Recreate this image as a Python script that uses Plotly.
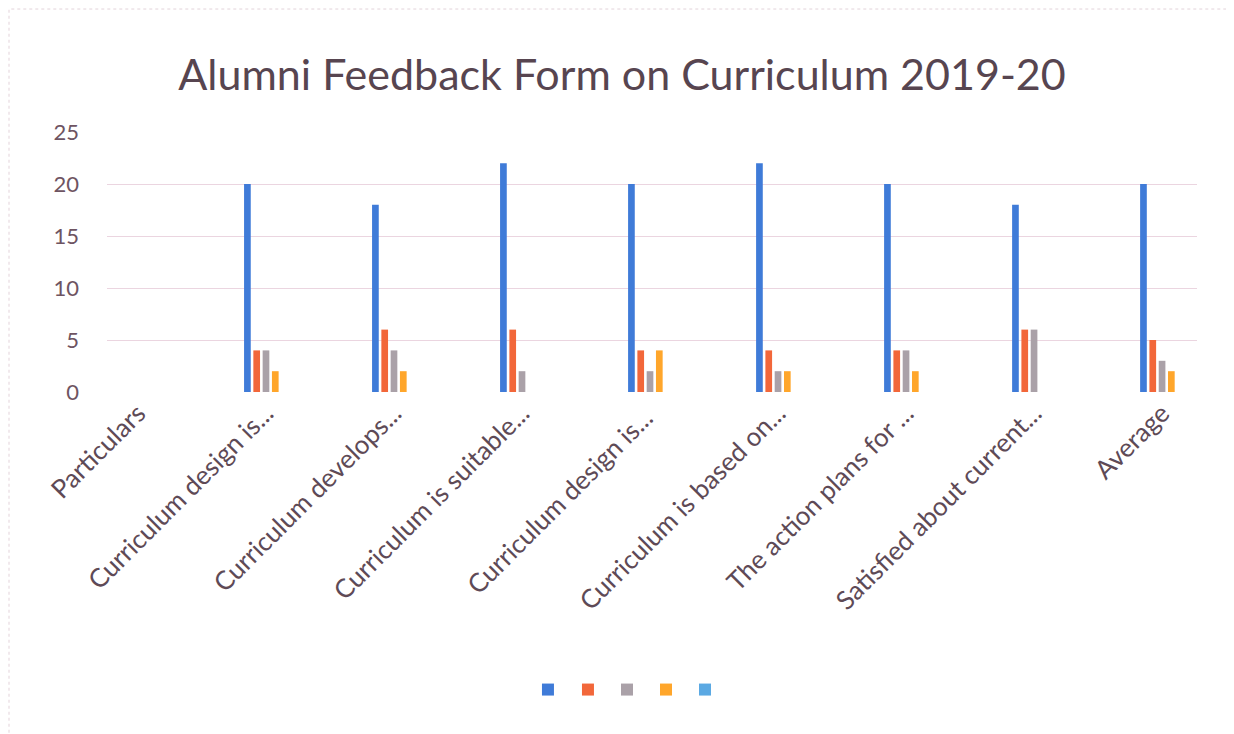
import plotly.graph_objects as go

categories = ["Particulars", "Curriculum design is...", "Curriculum develops...",
              "Curriculum is suitable...", "Curriculum design is... ",
              "Curriculum is based on...", "The action plans for ...",
              "Satisfied about current...", "Average"]
series_1 = [0, 20, 18, 22, 20, 22, 20, 18, 20]
series_2 = [0, 4, 6, 6, 4, 4, 4, 6, 5]
series_3 = [0, 4, 4, 2, 2, 2, 4, 6, 3]
series_4 = [0, 2, 2, 0, 4, 2, 2, 0, 2]
series_5 = [0, 0, 0, 0, 0, 0, 0, 0, 0]
y_ticks = [0, 5, 10, 15, 20, 25]

colors = ["#3F7BD8", "#F2673A", "#AAA1A8", "#FFA62B", "#5BA9E3"]
all_series = [series_1, series_2, series_3, series_4, series_5]
legend_ids = ["legend", "legend2", "legend3", "legend4", "legend5"]
legend_x = [0.3862, 0.4229, 0.4587, 0.4945, 0.5303]

fig = go.Figure()
for i, s in enumerate(all_series):
    fig.add_trace(go.Bar(x=categories, y=s, name="", marker_color=colors[i],
                         marker_line_width=0, legend=legend_ids[i]))

font_fam = "Lato, 'Open Sans', sans-serif"
legend_layouts = {}
for i, lid in enumerate(legend_ids):
    legend_layouts[lid] = dict(orientation="h", x=legend_x[i], xanchor="left", y=-1.146,
                               yanchor="middle", font=dict(size=14), itemwidth=30,
                               bgcolor="rgba(0,0,0,0)")

fig.update_layout(
    width=1234, height=734,
    paper_bgcolor="white", plot_bgcolor="white",
    barmode="group", bargap=0.637, bargroupgap=0.28,
    margin=dict(l=99, r=45, t=124, b=350, autoexpand=False),
    title=dict(text="Alumni Feedback Form on Curriculum 2019-20", x=0.4976, xanchor="center",
               xref="container", yref="container", y=0.909, yanchor="middle",
               font=dict(family=font_fam, size=43, color="#574550")),
    font=dict(family=font_fam, color="#6A5460"),
    showlegend=True,
    xaxis=dict(tickangle=-45, tickfont=dict(size=26, color="#5E4A56"), showgrid=False,
               showline=False, ticks="", range=[-0.242, 8.273], automargin=False),
    yaxis=dict(range=[0, 25], tickvals=y_ticks, tickfont=dict(size=22, color="#6E5462"),
               showgrid=True, gridcolor="#EBD5E0", gridwidth=1, zeroline=False,
               showline=False, ticks="", ticklabelstandoff=27, automargin=False),
    shapes=[dict(type="rect", xref="paper", yref="paper", x0=-0.0899, x1=1.030, y0=-1.342, y1=1.473,
                 line=dict(color="#E3D3DA", width=1, dash="dot"))],
    **legend_layouts,
)

fig.write_html("out.html")
